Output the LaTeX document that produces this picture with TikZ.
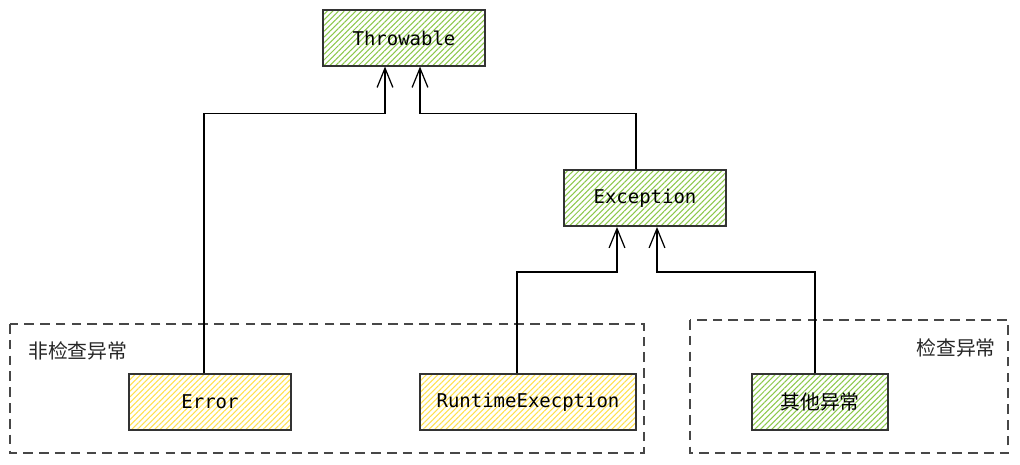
\documentclass[tikz,border=0pt]{standalone}
\usepackage{fontspec}
\setmonofont{DejaVu Sans Mono}
\newfontfamily\cjk{Noto Sans CJK SC}
\usepackage{tikz}
\usetikzlibrary{arrows.meta,calc,patterns.meta}
\usepackage{xcolor}
\definecolor{hatchgreen}{HTML}{8CC84B}
\definecolor{hatchyellow}{HTML}{FFE04D}
\definecolor{edgegray}{HTML}{333333}

\begin{document}
\begin{tikzpicture}[x=0.02cm,y=-0.02cm,
    cls/.style={draw=edgegray,line width=1.1pt,minimum height=1.12cm,inner sep=0pt,
        font=\ttfamily\fontsize{10.8}{12}\selectfont},
    greenbox/.style={cls,pattern={Lines[angle=45,distance=2.3pt,line width=0.6pt]},pattern color=hatchgreen},
    yellowbox/.style={cls,pattern={Lines[angle=45,distance=2.3pt,line width=0.6pt]},pattern color=hatchyellow},
    group/.style={draw=edgegray!90,line width=1.1pt,dash pattern=on 5.5pt off 3.5pt},
    link/.style={line width=0.7pt,-{Straight Barb[length=11pt,width=9pt,line width=0.7pt]}},
    tag/.style={font=\cjk\fontsize{11.3}{13}\selectfont,text=black!85}]
    \useasboundingbox (0,0) rectangle (1020,464);
    % groups
    \draw[group] (10,324) rectangle (644,453);
    \draw[group] (690,320) rectangle (1008,453);
    \node[tag,anchor=west] (unchk) at (22,351) {非检查异常};
    \node[tag,anchor=east] (chk) at (1002,348) {检查异常};
    % classes
    \node[greenbox,minimum width=3.24cm] (thr) at (404,38) {Throwable};
    \node[greenbox,minimum width=3.24cm] (exc) at (645,198) {Exception};
    \node[yellowbox,minimum width=3.24cm] (err) at (210,402) {Error};
    \node[yellowbox,minimum width=4.32cm] (rte) at (528,402) {RuntimeExecption};
    \node[greenbox,minimum width=2.72cm,font=\cjk\fontsize{11.3}{13}\selectfont] (oth) at (820,402) {其他异常};
    % inheritance
    \draw[link] ($(err.north)+(-6,0)$) |- ($(thr.south)+(-19,47)$) -- ($(thr.south)+(-19,0)$);
    \draw[link] ($(exc.north)+(-9,0)$) |- ($(thr.south)+(16,47)$) -- ($(thr.south)+(16,0)$);
    \draw[link] ($(rte.north)+(-11,0)$) |- ($(exc.south)+(-28,45)$) -- ($(exc.south)+(-28,0)$);
    \draw[link] ($(oth.north)+(-5,0)$) |- ($(exc.south)+(12,45)$) -- ($(exc.south)+(12,0)$);
\end{tikzpicture}
\end{document}
